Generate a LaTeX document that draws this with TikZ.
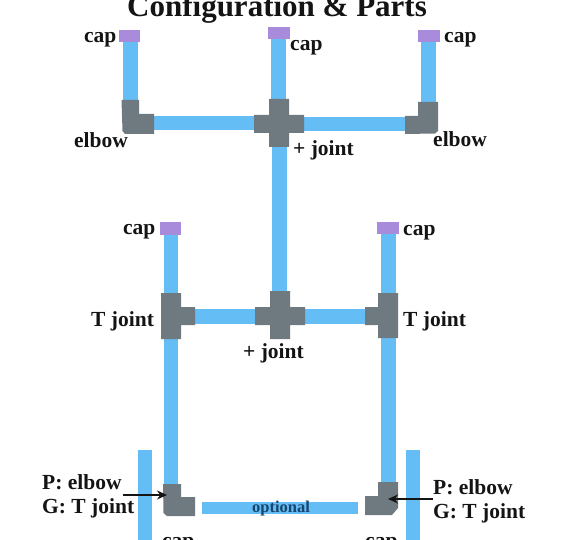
\documentclass[tikz,border=0pt]{standalone}
\usepackage{fontspec}
\setmainfont{Liberation Serif}
\definecolor{pipeblue}{HTML}{64BDF4}
\definecolor{jointgray}{HTML}{6F7A80}
\definecolor{capviolet}{HTML}{A98BDC}
\definecolor{ink}{HTML}{141414}
\definecolor{optink}{HTML}{17456F}
\usetikzlibrary{arrows.meta}
\tikzset{
  pipe/.style={fill=pipeblue,draw=none},
  joint/.style={fill=jointgray,draw=none},
  capbox/.style={fill=capviolet,draw=none},
  lab/.style={anchor=base west,inner sep=0pt,text=ink,font=\bfseries\fontsize{21.5}{24}\selectfont},
  ptr/.style={draw=ink,line width=1.4pt,-{Stealth[length=10pt,width=9pt]}}
}
\begin{document}
\begin{tikzpicture}[x=1pt,y=-1pt]
\useasboundingbox (0,0) rectangle (570,540);
\clip (0,0) rectangle (570,540);
\fill[white] (0,0) rectangle (570,540);
% pipes
\foreach \a/\b/\c/\d in {123/42/138/100, 154/116/254/130, 271/39/286/99, 304/117/405/131, 421/42/436/102,
  272/147/287/292, 164/235/178/294, 195/309/255/324, 305/309/365/324, 381/234/396/293,
  164/339/178/484, 381/338/396/482, 138/450/152/540, 406/450/420/540, 202/502/358/514}
  \fill[pipe] (\a,\b) rectangle (\c,\d);
% caps
\foreach \a/\b/\c/\d in {119/30/140/42, 268/27/290/39, 418/30/440/42, 160/222/181/235, 377/222/399/234}
  \fill[capbox] (\a,\b) rectangle (\c,\d);
% plus joints
\fill[joint] (269,99) -- (289,99) -- (289,115) -- (304,115) -- (304,133) -- (289,133) -- (289,147) -- (269,147) -- (269,133) -- (254,133) -- (254,115) -- (269,115) -- cycle;
\fill[joint] (270,291) -- (290,291) -- (290,307) -- (305,307) -- (305,325) -- (290,325) -- (290,339) -- (270,339) -- (270,325) -- (255,325) -- (255,307) -- (270,307) -- cycle;
% T joints
\fill[joint] (161,293) -- (181,293) -- (181,307) -- (195,307) -- (195,325) -- (181,325) -- (181,339) -- (161,339) -- cycle;
\fill[joint] (378,293) -- (398,293) -- (398,338) -- (378,338) -- (378,325) -- (365,325) -- (365,307) -- (378,307) -- cycle;
% elbows
\fill[joint] (121.5,100) -- (139,100) -- (139,114) -- (154,114) -- (154,134) -- (125,134) -- (122.5,131) -- cycle;
\fill[joint] (418,102) -- (438,102) -- (438,131) -- (435,133.5) -- (405,134) -- (405,116) -- (418,116) -- cycle;
\fill[joint] (163,484) -- (181,484) -- (181,497) -- (195,497) -- (195,516) -- (167,516) -- (163.5,513) -- cycle;
\fill[joint] (378,482) -- (398,482) -- (398,508) -- (392,515) -- (365,515) -- (365,496) -- (378,496) -- cycle;
% title
\node[lab,font=\bfseries\fontsize{31}{34}\selectfont] (title) at (127,17) {Configuration \& Parts};
% labels
\node[lab] (capA) at (84,43) {cap};
\node[lab] (capB) at (290,51) {cap};
\node[lab] (capC) at (444,43) {cap};
\node[lab] (elbowA) at (74,148) {elbow};
\node[lab] (elbowB) at (433,147) {elbow};
\node[lab] (plusA) at (293,156) {+ joint};
\node[lab] (capD) at (123,234) {cap};
\node[lab] (capE) at (403,235) {cap};
\node[lab] (tjA) at (91,326) {T joint};
\node[lab] (tjB) at (403,326) {T joint};
\node[lab] (plusB) at (243,358) {+ joint};
\node[lab] (pA) at (42,489) {P: elbow};
\node[lab] (gA) at (42,513) {G: T joint};
\node[lab] (pB) at (433,494) {P: elbow};
\node[lab] (gB) at (433,518) {G: T joint};
\node[lab,font=\bfseries\fontsize{16.5}{18}\selectfont,text=optink] (opt) at (252,512) {optional};
\node[lab] (capF) at (162,547.5) {cap};
\node[lab] (capG) at (365,547.5) {cap};
% arrows
\coordinate (tipA) at (167,495);
\coordinate (tipB) at (388,499);
\coordinate (tailA) at (123,495);
\coordinate (tailB) at (433,499);
\draw[ptr] (tailA) -- (tipA);
\draw[ptr] (tailB) -- (tipB);
\end{tikzpicture}
\end{document}
